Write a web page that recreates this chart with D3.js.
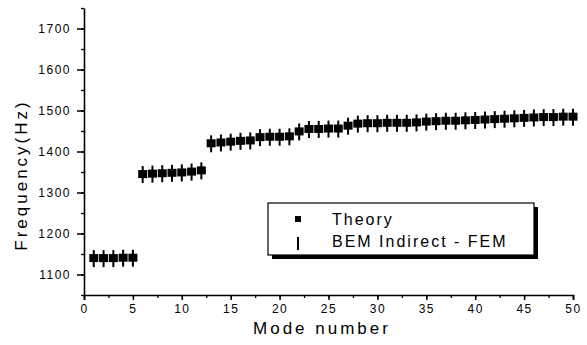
<!DOCTYPE html>
<html>
<head>
<meta charset="utf-8">
<script src="https://cdn.jsdelivr.net/npm/d3@7"></script>
<style>
  body { margin: 0; background: #fff; }
  text { font-family: "Liberation Sans", Arial, sans-serif; fill: #000; }
</style>
</head>
<body>
<svg width="587" height="345"></svg>
<script>
var svg = d3.select("svg");

// data
var modes = d3.range(1, 51);
var theory = [1140, 1140, 1140, 1141, 1141,
    1345, 1346, 1347, 1348, 1349, 1351, 1354,
    1420, 1422, 1424, 1426, 1427, 1435, 1436, 1436, 1437,
    1449, 1455, 1455, 1456, 1456, 1463, 1468, 1469, 1469, 1470,
    1470, 1470, 1471, 1473, 1474, 1475, 1475, 1476, 1477, 1478,
    1479, 1480, 1481, 1482, 1483, 1484, 1484, 1485, 1485];
var bem = theory.slice();
var xTicks = [0, 5, 10, 15, 20, 25, 30, 35, 40, 45, 50];
var yTicks = [1100, 1200, 1300, 1400, 1500, 1600, 1700];
var legendLabels = ["Theory", "BEM Indirect - FEM"];

var x = d3.scaleLinear().domain([0, 50]).range([84, 573]);
var y = d3.scaleLinear().domain([1050, 1750]).range([295, 8]);

// axes
var gx = svg.append("g").attr("transform", "translate(0,295)");
gx.call(d3.axisBottom(x).tickValues(d3.range(0, 50.1, 2.5)).tickSize(3).tickFormat(""));
gx.call(g => g.selectAll(".tick line").attr("stroke-width", 1.3));
var gx2 = svg.append("g").attr("transform", "translate(0,295)");
gx2.call(d3.axisBottom(x).tickValues(xTicks).tickSize(5).tickPadding(4).tickFormat(d3.format("d")))
  .call(g => g.select(".domain").attr("stroke-width", 1.6))
  .call(g => g.selectAll(".tick line").attr("stroke-width", 1.5))
  .call(g => g.selectAll("text").attr("font-size", 12).attr("letter-spacing", 1.5));

var gy = svg.append("g").attr("transform", "translate(84,0)");
gy.call(d3.axisLeft(y).tickValues(d3.range(1050, 1751, 50)).tickSize(3).tickFormat(""))
  .call(g => g.select(".domain").remove())
  .call(g => g.selectAll(".tick line").attr("stroke-width", 1.3));
var gy2 = svg.append("g").attr("transform", "translate(84,0)");
gy2.call(d3.axisLeft(y).tickValues(yTicks).tickSize(7).tickPadding(6).tickSizeOuter(0).tickFormat(d3.format("d")))
  .call(g => g.select(".domain").attr("stroke-width", 1.6))
  .call(g => g.selectAll(".tick line").attr("stroke-width", 1.5))
  .call(g => g.selectAll("text").attr("font-size", 12).attr("letter-spacing", 1.5));

svg.selectAll(".domain").attr("stroke", "#000");

// axis titles
svg.append("text")
    .attr("x", 322).attr("y", 334)
    .attr("text-anchor", "middle")
    .attr("font-size", 17).attr("letter-spacing", 3)
    .text("Mode number");
svg.append("text")
    .attr("transform", "translate(27,175) rotate(-90)")
    .attr("text-anchor", "middle")
    .attr("font-size", 17).attr("letter-spacing", 3)
    .text("Frequency(Hz)");

// BEM error-bar style markers
svg.append("g").selectAll("line")
  .data(modes)
  .enter().append("line")
    .attr("x1", d => x(d)).attr("x2", d => x(d))
    .attr("y1", (d, i) => y(bem[i]) - 8)
    .attr("y2", (d, i) => y(bem[i]) + 9)
    .attr("stroke", "#000").attr("stroke-width", 2);

// theory squares
svg.append("g").selectAll("rect")
  .data(modes)
  .enter().append("rect")
    .attr("x", d => x(d) - 4.5)
    .attr("y", (d, i) => y(theory[i]) - 4)
    .attr("width", 9).attr("height", 8)
    .attr("fill", "#000");

// legend
var lg = svg.append("g");
lg.append("rect").attr("x", 272).attr("y", 207).attr("width", 266).attr("height", 52).attr("fill", "#000");
lg.append("rect").attr("x", 268).attr("y", 203).attr("width", 266).attr("height", 52)
    .attr("fill", "#fff").attr("stroke", "#000").attr("stroke-width", 1.2);
lg.append("rect").attr("x", 295).attr("y", 216).attr("width", 6).attr("height", 6).attr("fill", "#000");
lg.append("line").attr("x1", 298).attr("x2", 298).attr("y1", 237).attr("y2", 250)
    .attr("stroke", "#000").attr("stroke-width", 2);
lg.selectAll("text.lab")
  .data(legendLabels)
  .enter().append("text")
    .attr("class", "lab")
    .attr("x", 332)
    .attr("y", (d, i) => 225 + i * 22)
    .attr("font-size", 16).attr("letter-spacing", 2)
    .text(d => d);
</script>
</body>
</html>
